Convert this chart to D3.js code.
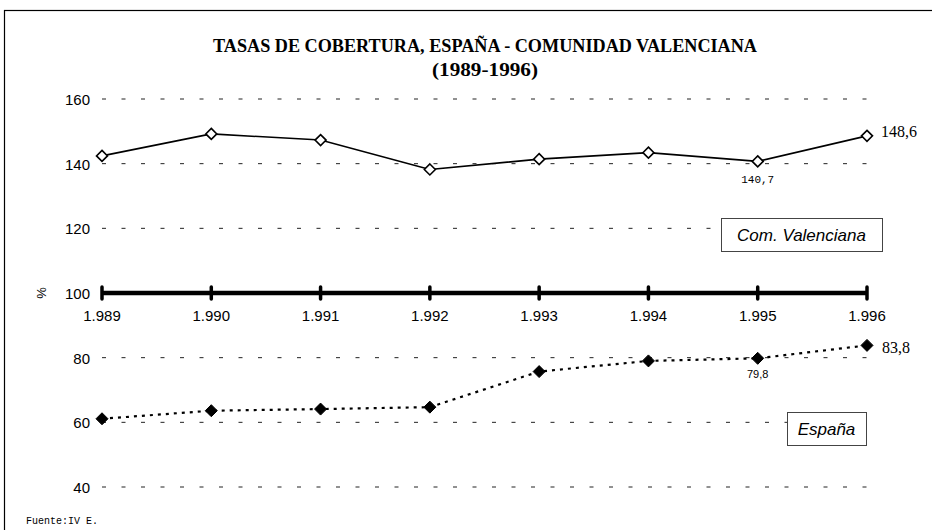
<!DOCTYPE html>
<html><head><meta charset="utf-8">
<script src="https://cdn.jsdelivr.net/npm/d3@7"></script>
<style>body{margin:0;background:#fff}svg{display:block}</style>
</head><body>
<script>
const years = ["1.989","1.990","1.991","1.992","1.993","1.994","1.995","1.996"];
const valenciana = [142.4, 149.2, 147.3, 138.2, 141.4, 143.4, 140.7, 148.6];
const espana = [61.1, 63.6, 64.1, 64.7, 75.7, 79.0, 79.8, 83.8];
const yTicks = [40, 60, 80, 100, 120, 140, 160];
const title1 = "TASAS DE COBERTURA, ESPAÑA - COMUNIDAD VALENCIANA";
const title2 = "(1989-1996)";

const W = 932, H = 530;
const svg = d3.select("body").append("svg").attr("width", W).attr("height", H);
svg.append("rect").attr("x", 4.5).attr("y", 10.5).attr("width", 940).attr("height", 540)
  .attr("fill", "#fff").attr("stroke", "#000").attr("stroke-width", 1.2);

const x = d3.scalePoint().domain(years).range([102, 867]);
const y = d3.scaleLinear().domain([40, 160]).range([487, 99]);

// title
svg.append("text").attr("x", 485).attr("y", 52).attr("text-anchor", "middle")
  .attr("font-family", "Liberation Serif, Times New Roman, serif").attr("font-weight", "bold")
  .attr("font-size", 18.5).attr("textLength", 544).attr("lengthAdjust", "spacingAndGlyphs").text(title1);
svg.append("text").attr("x", 485).attr("y", 76).attr("text-anchor", "middle")
  .attr("font-family", "Liberation Serif, Times New Roman, serif").attr("font-weight", "bold")
  .attr("font-size", 18.5).attr("textLength", 106).attr("lengthAdjust", "spacingAndGlyphs").text(title2);

// gridlines
svg.append("g").selectAll("line").data(yTicks.filter(d => d !== 100)).join("line")
  .attr("x1", 102).attr("x2", 870).attr("y1", d => y(d)).attr("y2", d => y(d))
  .attr("stroke", "#222").attr("stroke-width", 1).attr("stroke-dasharray", "4,15.5");

// y axis labels
const yAxis = d3.axisLeft(y).tickValues(yTicks).tickSize(0).tickPadding(0);
const gy = svg.append("g").attr("transform", "translate(90,0)").call(yAxis);
gy.select(".domain").remove();
gy.selectAll("text").attr("font-family", "Liberation Sans, Arial, sans-serif").attr("font-size", 15).attr("fill", "#000").attr("dy", "0.36em");

svg.append("text").attr("transform", `translate(46,${y(100)}) rotate(-90)`).attr("text-anchor", "middle")
  .attr("font-family", "Liberation Sans, Arial, sans-serif").attr("font-size", 13).text("%");

// x axis at 100
const gx = svg.append("g").attr("transform", `translate(0,${y(100)})`);
gx.append("line").attr("x1", x(years[0])).attr("x2", x(years[years.length-1]))
  .attr("stroke", "#000").attr("stroke-width", 4.5);
gx.selectAll("line.tk").data(years).join("line").attr("class", "tk")
  .attr("x1", d => x(d)).attr("x2", d => x(d)).attr("y1", -6).attr("y2", 6)
  .attr("stroke", "#000").attr("stroke-width", 3.5).attr("stroke-linecap", "round");
gx.selectAll("text").data(years).join("text")
  .attr("x", d => x(d)).attr("y", 28).attr("text-anchor", "middle")
  .attr("font-family", "Liberation Sans, Arial, sans-serif").attr("font-size", 15).text(d => d);

const dpath = (s) => `M0,${-s}L${s},0L0,${s}L${-s},0Z`;

// Valenciana line
const line = d3.line().x((d, i) => x(years[i])).y(d => y(d));
svg.append("path").datum(valenciana).attr("d", line).attr("fill", "none")
  .attr("stroke", "#000").attr("stroke-width", 1.6);
svg.append("g").selectAll("path").data(valenciana).join("path")
  .attr("transform", (d, i) => `translate(${x(years[i])},${y(d)})`)
  .attr("d", dpath(5.5)).attr("fill", "#fff").attr("stroke", "#000").attr("stroke-width", 1.6);

// España line
svg.append("path").datum(espana).attr("d", line).attr("fill", "none")
  .attr("stroke", "#000").attr("stroke-width", 2.2).attr("stroke-dasharray", "3,5");
svg.append("g").selectAll("path").data(espana).join("path")
  .attr("transform", (d, i) => `translate(${x(years[i])},${y(d)})`)
  .attr("d", dpath(6)).attr("fill", "#000").attr("stroke", "#000").attr("stroke-width", 1);

// value labels
svg.append("text").attr("x", x(years[7]) + 14).attr("y", y(valenciana[7]) + 1)
  .attr("font-family", "Liberation Serif, Times New Roman, serif").attr("font-size", 16).text("148,6");
svg.append("text").attr("x", x(years[6])).attr("y", y(valenciana[6]) + 22).attr("text-anchor", "middle")
  .attr("font-family", "Liberation Mono, Courier New, monospace").attr("font-size", 11).text("140,7");
svg.append("text").attr("x", x(years[7]) + 15).attr("y", y(espana[7]) + 8)
  .attr("font-family", "Liberation Serif, Times New Roman, serif").attr("font-size", 16).text("83,8");
svg.append("text").attr("x", x(years[6])).attr("y", y(espana[6]) + 20).attr("text-anchor", "middle")
  .attr("font-family", "Liberation Sans, Arial, sans-serif").attr("font-size", 11).text("79,8");

// legend boxes
function box(x0, y0, w, h, label) {
  svg.append("rect").attr("x", x0 + 0.5).attr("y", y0 + 0.5).attr("width", w).attr("height", h)
    .attr("fill", "#fff").attr("stroke", "#444").attr("stroke-width", 1);
  svg.append("text").attr("x", x0 + w / 2).attr("y", y0 + h / 2 + 6).attr("text-anchor", "middle")
    .attr("font-family", "Liberation Sans, Arial, sans-serif").attr("font-style", "italic")
    .attr("font-size", 17).text(label);
}
box(721, 218, 161, 33, "Com. Valenciana");
box(787, 412, 79, 33, "España");

// source
svg.append("text").attr("x", 26).attr("y", 524)
  .attr("font-family", "Liberation Mono, Courier New, monospace").attr("font-size", 10).text("Fuente:IV E.");
</script>
</body></html>
